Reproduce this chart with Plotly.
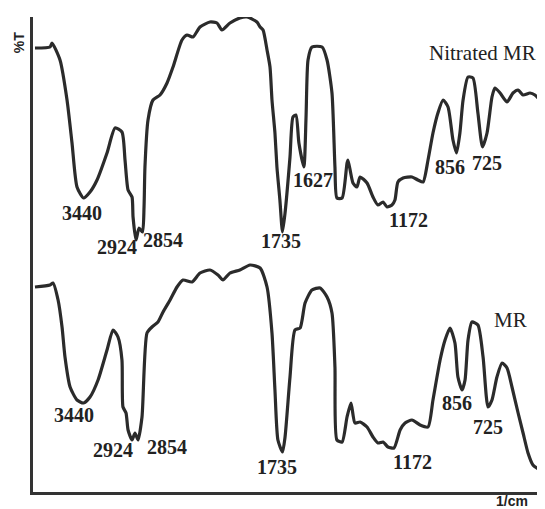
import numpy as np
import plotly.graph_objects as go

# ---- data (wavenumber in cm^-1, transmittance in arbitrary %T units) ----
nitrated_wn = [3917, 3769, 3750, 3671, 3602, 3553, 3504, 3440, 3376, 3307, 3209, 3130, 3062,
               3032, 3002, 2963, 2953, 2924, 2894, 2860, 2845, 2836, 2806, 2757, 2688, 2619,
               2560, 2472, 2422, 2364, 2295, 2197, 2128, 2079, 2000, 1950, 1914, 1864, 1848,
               1833, 1813, 1798, 1788, 1773, 1763, 1748, 1735, 1722, 1697, 1682, 1667, 1652,
               1627, 1616, 1606, 1586, 1535, 1510, 1485, 1470, 1460, 1434, 1409, 1404, 1379,
               1359, 1343, 1308, 1278, 1253, 1227, 1207, 1182, 1167, 1152, 1126, 1081, 1051,
               1025, 1000, 975, 950, 924, 899, 874, 856, 839, 823, 798, 773, 748, 725, 702,
               677, 662, 636, 601, 571, 545, 520, 485, 460, 424, 409]
nitrated_t = [444, 445, 449, 432, 392, 349, 305, 294, 300, 312, 339, 364, 360,
              332, 302, 295, 275, 252, 264, 260, 285, 325, 372, 392, 397, 409,
              425, 452, 457, 455, 465, 470, 469, 462, 469, 474, 475, 470, 465,
              462, 442, 425, 392, 359, 325, 292, 260, 279, 335, 375, 377, 349,
              325, 375, 432, 445, 445, 432, 399, 325, 294, 294, 329, 332, 309,
              305, 315, 309, 295, 287, 290, 285, 287, 292, 310, 314, 315, 312,
              310, 332, 359, 379, 392, 385, 352, 339, 359, 392, 415, 414, 379, 345, 359,
              395, 404, 399, 390, 399, 402, 397, 399, 397, 389, 382]

mr_wn = [3917, 3769, 3740, 3690, 3651, 3622, 3572, 3504, 3440, 3376, 3297, 3209, 3150, 3101,
         3062, 3052, 3022, 3002, 2963, 2934, 2904, 2865, 2816, 2767, 2708, 2658, 2589, 2521,
         2462, 2373, 2295, 2197, 2118, 2069, 2000, 1950, 1899, 1848, 1813, 1788, 1773, 1758,
         1735, 1722, 1697, 1672, 1646, 1621, 1586, 1545, 1510, 1485, 1470, 1460, 1434, 1409,
         1389, 1369, 1343, 1308, 1278, 1253, 1227, 1202, 1172, 1141, 1116, 1081, 1040, 1000,
         975, 939, 914, 889, 864, 849, 828, 813, 798, 778, 748, 722, 697, 677, 652, 626, 601,
         576, 545, 520, 495, 470, 434]
mr_t = [205, 207, 209, 192, 165, 135, 105, 92, 89, 95, 112, 142, 162, 155,
        132, 85, 79, 62, 52, 59, 52, 75, 159, 165, 170, 180, 192, 205,
        212, 210, 219, 222, 217, 212, 219, 222, 227, 224, 205, 159, 102, 52,
        40, 55, 115, 162, 164, 189, 202, 204, 195, 179, 125, 52, 50, 75,
        89, 69, 70, 65, 55, 49, 50, 45, 44, 62, 69, 72, 67, 65,
        92, 132, 152, 164, 149, 115, 102, 112, 152, 170, 167, 135, 85, 92, 115, 129, 124,
        105, 79, 59, 39, 27, 22]

# peak labels: (text, anchor wavenumber, anchor transmittance)
nitrated_labels = ["3440", "2924", "2854", "1735", "1627", "1172", "856", "725"]
nitrated_label_wn = [3455, 3111, 2659, 1742, 1581, 1101, 889, 702]
nitrated_label_t = [279, 245, 252, 251, 312, 272, 325, 329]

mr_labels = ["3440", "2924", "2854", "1735", "1172", "856", "725"]
mr_label_wn = [3538, 3150, 2619, 1763, 1076, 854, 697]
mr_label_t = [77, 42, 45, 25, 30, 89, 65]

series_names = ["Nitrated MR", "MR"]
series_name_wn = [727, 586]
series_name_t = [439, 172]

# ---- scale: instrument chart with a scale change at 2000 cm^-1 ----
BREAK = 2000.0
LEFT_DENS = 9.83   # cm^-1 per unit above break
RIGHT_DENS = 5.05  # cm^-1 per unit below break
BREAK_POS = 197.0


def pos(wn):
    wn = np.asarray(wn, dtype=float)
    return np.where(wn >= BREAK,
                    BREAK_POS - (wn - BREAK) / LEFT_DENS,
                    BREAK_POS + (BREAK - wn) / RIGHT_DENS)


line_color = "#2b2b2b"
fig = go.Figure()
fig.add_trace(go.Scatter(x=pos(nitrated_wn), y=nitrated_t, mode="lines",
                         line=dict(color=line_color, width=3.2, shape="spline", smoothing=0.6),
                         name=series_names[0], hoverinfo="skip"))
fig.add_trace(go.Scatter(x=pos(mr_wn), y=mr_t, mode="lines",
                         line=dict(color=line_color, width=3.2, shape="spline", smoothing=0.6),
                         name=series_names[1], hoverinfo="skip"))

label_font = dict(family="Liberation Serif", size=20, color="#222")
for txt, w, t in zip(nitrated_labels, nitrated_label_wn, nitrated_label_t):
    fig.add_annotation(x=float(pos(w)), y=t, text="<b>%s</b>" % txt, showarrow=False,
                       font=label_font, xanchor="center", yanchor="middle")
for txt, w, t in zip(mr_labels, mr_label_wn, mr_label_t):
    fig.add_annotation(x=float(pos(w)), y=t, text="<b>%s</b>" % txt, showarrow=False,
                       font=label_font, xanchor="center", yanchor="middle")
for txt, w, t in zip(series_names, series_name_wn, series_name_t):
    fig.add_annotation(x=float(pos(w)), y=t, text=txt, showarrow=False,
                       font=dict(family="Liberation Serif", size=21, color="#222"),
                       xanchor="center", yanchor="middle")

fig.add_annotation(xref="paper", yref="paper", x=-0.027, y=0.945, text="<b>%T</b>",
                   textangle=-90, showarrow=False,
                   font=dict(family="Liberation Sans", size=14, color="#222"),
                   xanchor="center", yanchor="middle")
fig.add_annotation(xref="paper", yref="paper", x=0.935, y=-0.018, text="<b>1/cm</b>",
                   showarrow=False,
                   font=dict(family="Liberation Sans", size=14, color="#222"),
                   xanchor="center", yanchor="middle")

# page body has an 8px default margin: shrink the figure so the plot area lands
# where the reference has it (left axis at x=33, bottom axis at y=492)
fig.update_layout(
    width=537, height=501,
    margin=dict(l=25, r=0, t=9, b=17),
    paper_bgcolor="white", plot_bgcolor="white",
    showlegend=False,
    xaxis=dict(range=[0, 512], showline=True, linecolor="#333", linewidth=2.5,
               showgrid=False, zeroline=False, showticklabels=False, ticks=""),
    yaxis=dict(range=[0, 475], showline=True, linecolor="#333", linewidth=2.5,
               showgrid=False, zeroline=False, showticklabels=False, ticks=""),
)

fig.write_html("out.html")
